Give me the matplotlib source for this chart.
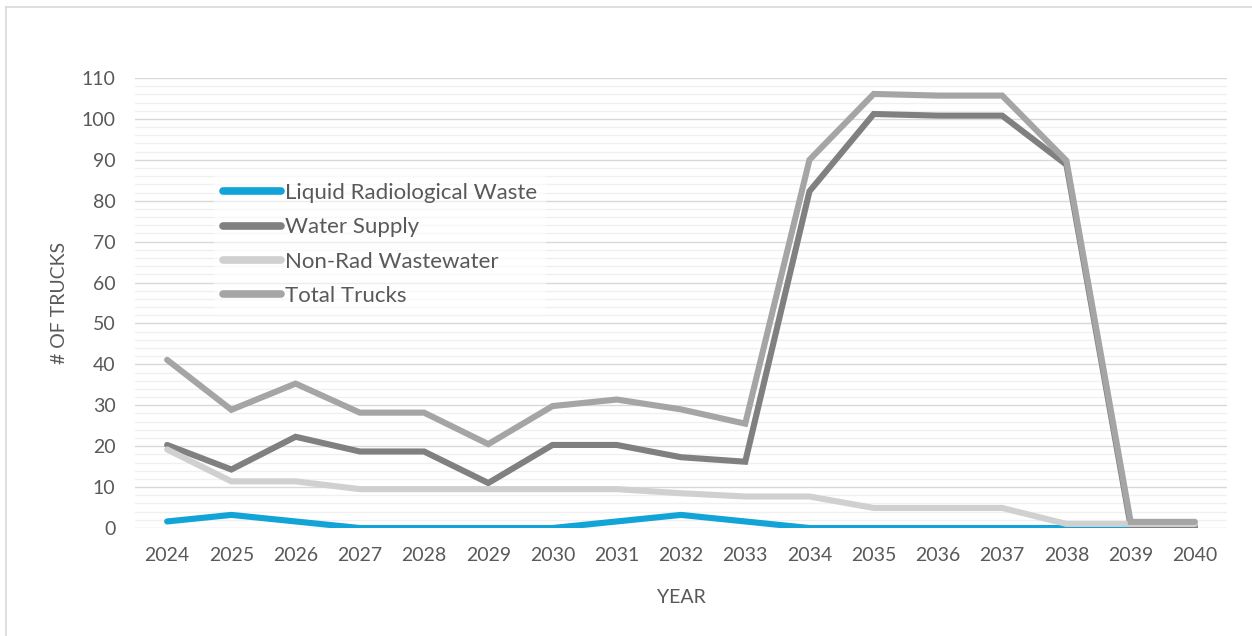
import matplotlib
matplotlib.use("Agg")
import matplotlib.pyplot as plt
from matplotlib.lines import Line2D
from matplotlib.ticker import MultipleLocator

plt.rcParams['font.family'] = ['Lato', 'DejaVu Sans']

years = ["2024", "2025", "2026", "2027", "2028", "2029", "2030", "2031", "2032",
         "2033", "2034", "2035", "2036", "2037", "2038", "2039", "2040"]
liquid_rad = [1.6, 3.2, 1.6, 0, 0, 0, 0, 1.6, 3.2, 1.6, 0, 0, 0, 0, 0, 0, 0]
water_supply = [20.3, 14.3, 22.3, 18.7, 18.7, 11.0, 20.3, 20.3, 17.3, 16.2,
                82.3, 101.2, 100.8, 100.8, 88.8, 0.5, 0.5]
non_rad = [19.2, 11.4, 11.4, 9.5, 9.5, 9.5, 9.5, 9.5, 8.5, 7.7,
           7.7, 4.9, 4.9, 4.9, 1.0, 1.0, 1.0]
total_trucks = [41.1, 28.9, 35.3, 28.2, 28.2, 20.5, 29.8, 31.4, 29.0, 25.5,
                90.0, 106.1, 105.7, 105.7, 89.8, 1.5, 1.5]

series = [
    ("Liquid Radiological Waste", liquid_rad, "#12A4D6"),
    ("Water Supply", water_supply, "#808080"),
    ("Non-Rad Wastewater", non_rad, "#D0D0D0"),
    ("Total Trucks", total_trucks, "#A5A5A5"),
]

text_color = "#595959"

fig = plt.figure(figsize=(12.52, 6.36), dpi=100)
ax = fig.add_axes([135 / 1252, 1 - 528 / 636, (1227 - 135) / 1252, (528 - 78) / 636])

x = list(range(len(years)))
for name, vals, color in series:
    ax.plot(x, vals, color=color, lw=4.4, label=name,
            solid_capstyle="round", solid_joinstyle="miter")

ax.set_xlim(-0.5, len(years) - 0.5)
ax.set_ylim(0, 110)
ax.set_xticks(x)
ax.set_xticklabels(years)
ax.yaxis.set_major_locator(MultipleLocator(10))
ax.yaxis.set_minor_locator(MultipleLocator(2))

ax.grid(axis="y", which="major", color="#D9D9D9", lw=1.0)
ax.grid(axis="y", which="minor", color="#F0F0F0", lw=1.0)
ax.set_axisbelow(True)
for s in ax.spines.values():
    s.set_visible(False)

ax.tick_params(axis="both", which="both", length=0, labelsize=14, labelcolor=text_color)
ax.tick_params(axis="y", pad=14)
ax.tick_params(axis="x", pad=14)

ax.set_ylabel("# OF TRUCKS", fontsize=14, color=text_color, labelpad=10)
ax.set_xlabel("YEAR", fontsize=14, color=text_color, labelpad=18)

leg = ax.legend(loc="upper left", bbox_to_anchor=((214 - 135) / 1092, (528 - 174) / 450),
                frameon=True, framealpha=0.55, facecolor="white", edgecolor="none",
                fontsize=16, labelcolor=text_color, handlelength=2.6, handletextpad=0.18,
                labelspacing=0.65, borderpad=0.4, borderaxespad=0)
for h in leg.get_lines():
    h.set_linewidth(5.5)
    h.set_solid_capstyle("round")

# outer chart border
border_color = "#D9D9D9"
fig.add_artist(Line2D([6 / 1252, 6 / 1252], [0, 1 - 7 / 636], color=border_color, lw=1.2))
fig.add_artist(Line2D([6 / 1252, 1], [1 - 7 / 636, 1 - 7 / 636], color=border_color, lw=1.2))

fig.savefig("out.png", dpi=100)
